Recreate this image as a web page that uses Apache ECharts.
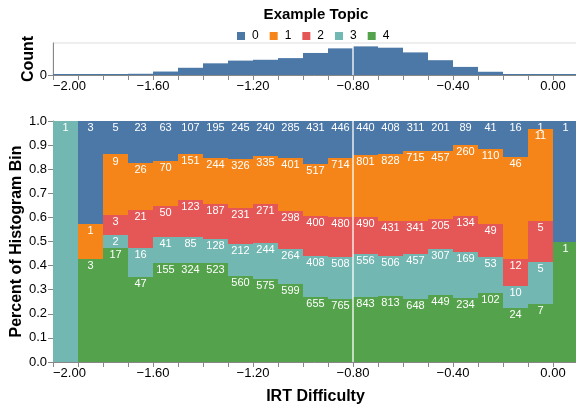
<!DOCTYPE html>
<html>
<head>
<meta charset="utf-8">
<script src="https://cdn.jsdelivr.net/npm/echarts@6/dist/echarts.min.js"></script>
<style>html,body{margin:0;padding:0;background:#fff}#c{width:576px;height:405px}</style>
</head>
<body>
<div id="c"></div>
<script>
// ---- data ----
const binStart = [-2.0,-1.9,-1.8,-1.7,-1.6,-1.5,-1.4,-1.3,-1.2,-1.1,-1.0,-0.9,-0.8,-0.7,-0.6,-0.5,-0.4,-0.3,-0.2,-0.1,0.0];
const binWidth = 0.1;
const topicNames = ['0','1','2','3','4'];
const topic0 = [0,3,5,23,63,107,195,245,240,285,431,446,440,408,311,201,89,41,16,1,1];
const topic1 = [0,1,9,26,70,151,244,326,335,401,517,714,801,828,715,457,260,110,46,11,0];
const topic2 = [0,0,3,21,50,123,187,231,271,298,400,480,490,431,341,205,134,49,12,5,0];
const topic3 = [1,0,2,16,41,85,128,212,244,264,408,508,556,506,457,307,169,53,10,5,0];
const topic4 = [0,3,17,47,155,324,523,560,575,599,655,765,843,813,648,449,234,102,24,7,1];
const ruleX = -0.8;
const xTickLabels = [-2.0,-1.6,-1.2,-0.8,-0.4,0.0];
const countMax = 3500;

// ---- styles ----
const colors = ['#4c78a8','#f58518','#e45756','#72b7b2','#54a24b'];
const FONT = '"Liberation Sans", Arial, Helvetica, sans-serif';
const topicVals = [topic0, topic1, topic2, topic3, topic4];
const stackOrder = [4,3,2,1,0];

const totals = binStart.map((_, i) => topicVals.reduce((s, arr) => s + arr[i], 0));
const segData = topicVals.map(() => []);
binStart.forEach((x0, i) => {
  const tot = totals[i];
  let cum = 0;
  stackOrder.forEach(t => {
    const v = topicVals[t][i];
    const f = tot > 0 ? v / tot : 0;
    segData[t].push([x0, x0 + binWidth, cum, cum + f, v]);
    cum += f;
  });
});
const histData = binStart.map((x0, i) => [x0, x0 + binWidth, 0, totals[i]]);

function fmtX(v) {
  const hit = xTickLabels.some(t => Math.abs(t - v) < 1e-6);
  if (!hit) return '';
  const r = Math.round(v * 100) / 100;
  return (r < -1e-9 ? '\u2212' : '') + Math.abs(r).toFixed(2);
}

const chart = echarts.init(document.getElementById('c'), null, {renderer: 'canvas'});

const nameStyle = {fontSize: 16, fontWeight: 'bold', color: '#000', fontFamily: FONT};

function makeX(gi) {
  return {
    type: 'value', gridIndex: gi, min: -2.0, max: 0.1, interval: 0.1,
    axisLine: {show: true, onZero: false, lineStyle: {color: '#888', width: 1}},
    axisTick: {show: true, length: 5, lineStyle: {color: '#888'}},
    splitLine: {show: false},
    axisLabel: {formatter: fmtX, color: '#000', fontSize: 13, fontFamily: FONT, margin: 5,
      alignMinLabel: 'left', showMaxLabel: true, hideOverlap: false},
    name: gi === 1 ? 'IRT Difficulty' : '',
    nameLocation: 'middle', nameGap: 27, nameMoveOverlap: false,
    nameTextStyle: nameStyle
  };
}

function segRender(color) {
  return function (params, api) {
    const n = api.value(4);
    if (!(n > 0)) return;
    const a = api.coord([api.value(0), api.value(3)]);
    const b = api.coord([api.value(1), api.value(2)]);
    const xa = Math.round(a[0]), xb = Math.round(b[0]);
    const ya = Math.round(a[1]), yb = Math.round(b[1]);
    return {
      type: 'group',
      children: [
        {type: 'rect', shape: {x: xa, y: ya, width: xb - xa, height: yb - ya}, style: {fill: color}},
        {type: 'text', z2: 100, style: {text: String(n), x: (a[0] + b[0]) / 2, y: a[1] + 1.5,
          align: 'center', verticalAlign: 'top', fill: '#fff', font: '11px ' + FONT}}
      ]
    };
  };
}

const series = [];
topicNames.forEach((nm, t) => {
  series.push({
    name: nm, type: 'custom', xAxisIndex: 1, yAxisIndex: 1,
    itemStyle: {color: colors[t]},
    encode: {x: [0, 1], y: [2, 3]},
    renderItem: segRender(colors[t]),
    data: segData[t], silent: true, animation: false
  });
});
series.push({
  name: 'hist', type: 'custom', xAxisIndex: 0, yAxisIndex: 0,
  encode: {x: [0, 1], y: [2, 3]},
  data: histData, silent: true, animation: false,
  renderItem: function (params, api) {
    const a = api.coord([api.value(0), api.value(3)]);
    const b = api.coord([api.value(1), api.value(2)]);
    const xa = Math.round(a[0]), xb = Math.round(b[0]);
    let h = b[1] - a[1];
    if (h < 1) h = 1;
    return {type: 'rect', shape: {x: xa, y: b[1] - h, width: xb - xa, height: h}, style: {fill: colors[0]}};
  }
});
series.push({
  type: 'line', xAxisIndex: 0, yAxisIndex: 0, symbol: 'none', silent: true, animation: false, z: 10,
  lineStyle: {color: '#fff', width: 1.3}, data: [[ruleX, 0], [ruleX, countMax]]
});
series.push({
  type: 'line', xAxisIndex: 1, yAxisIndex: 1, symbol: 'none', silent: true, animation: false, z: 10,
  lineStyle: {color: '#fff', width: 1.3}, data: [[ruleX, 0], [ruleX, 1]]
});

chart.setOption({
  animation: false,
  backgroundColor: '#fff',
  title: {text: 'Example Topic', left: 316, top: 7, padding: 0, textAlign: 'center',
    textStyle: {fontSize: 15, fontWeight: 'bold', color: '#000', fontFamily: FONT}},
  legend: {data: topicNames, left: 237, top: 30, padding: 0, icon: 'rect', itemWidth: 8, itemHeight: 8,
    itemGap: 11, selectedMode: false,
    textStyle: {fontSize: 12, color: '#000', fontFamily: FONT, padding: [0, 0, 0, 2]}},
  grid: [
    {left: 53, top: 43, width: 525, height: 32, show: true, borderColor: '#ddd', borderWidth: 1,
      backgroundColor: 'transparent', outerBoundsMode: 'none', containLabel: false},
    {left: 53, top: 121, width: 525, height: 241, outerBoundsMode: 'none', containLabel: false}
  ],
  xAxis: [makeX(0), makeX(1)],
  yAxis: [
    {type: 'value', gridIndex: 0, min: 0, max: countMax, interval: countMax,
      axisLine: {show: true, onZero: false, lineStyle: {color: '#888'}},
      axisTick: {show: true, length: 5, lineStyle: {color: '#888'}, customValues: [0]},
      axisLabel: {color: '#000', fontSize: 13, fontFamily: FONT, margin: 6, customValues: [0],
        formatter: v => (v === 0 ? '0' : '')},
      splitLine: {show: false},
      name: 'Count', nameLocation: 'middle', nameGap: 16, nameMoveOverlap: false,
      nameTextStyle: nameStyle},
    {type: 'value', gridIndex: 1, min: 0, max: 1, interval: 0.1,
      axisLine: {show: true, onZero: false, lineStyle: {color: '#888'}},
      axisTick: {show: true, length: 5, lineStyle: {color: '#888'}},
      axisLabel: {color: '#000', fontSize: 13, fontFamily: FONT, margin: 6, formatter: v => v.toFixed(1)},
      splitLine: {show: false},
      name: 'Percent of Histogram Bin', nameLocation: 'middle', nameGap: 28, nameMoveOverlap: false,
      nameTextStyle: nameStyle}
  ],
  series: series
});
</script>
</body>
</html>
